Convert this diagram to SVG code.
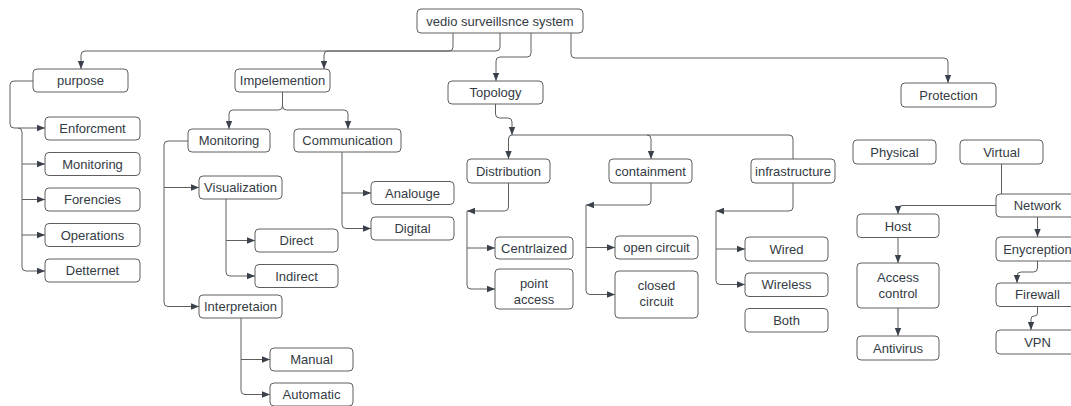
<svg xmlns="http://www.w3.org/2000/svg" width="1071" height="406" viewBox="0 0 1071 406">
<style>
.n rect{fill:#fff;stroke:#5e5e5e;stroke-width:1}
.n text{font-family:"Liberation Sans",Arial,sans-serif;font-size:13px;fill:#343b44;text-anchor:middle}
#connectors path{fill:none;stroke:#5e5e5e;stroke-width:1}
#connectors path.a{marker-end:url(#ah)}
</style>
<defs>
<marker id="ah" viewBox="0 0 10 10" refX="10" refY="5" markerWidth="8" markerHeight="8" orient="auto" markerUnits="userSpaceOnUse">
<path d="M0,1 L10,5 L0,9 z" fill="#3a414a"/>
</marker>
</defs>
<rect width="1071" height="406" fill="#fff"/>
<g id="connectors">
<path class="a" d="M453,33 V47 Q453,51 449,51 H85 Q81,51 81,55 V69"/>
<path class="a" d="M500,33 V47 Q500,51 496,51 H328 Q324,51 324,55 V69"/>
<path class="a" d="M531,33 V53 Q531,57 527,57 H500 Q496,57 496,61 V81"/>
<path class="a" d="M571,33 V54 Q571,58 575,58 H944 Q948,58 948,62 V83"/>
<path class="a" d="M33,81 H14 Q10,81 10,85 V124 Q10,128 14,128 H45"/>
<path class="a" d="M18,128 Q22,128 22,132 V267 Q22,271 26,271 H45"/>
<path class="a" d="M22,164 H45"/>
<path class="a" d="M22,199.5 H45"/>
<path class="a" d="M22,235 H45"/>
<path class="a" d="M282.5,92 V106 Q282.5,110 278.5,110 H233 Q229,110 229,114 V129"/>
<path class="a" d="M282.5,106 Q282.5,110 286.5,110 H344 Q348,110 348,114 V129"/>
<path class="a" d="M188,141 H168 Q164,141 164,145 V302.5 Q164,306.5 168,306.5 H199"/>
<path class="a" d="M164,187.5 H199"/>
<path class="a" d="M226,199 V272 Q226,276 230,276 H255"/>
<path class="a" d="M226,240.5 H255"/>
<path class="a" d="M241,318 V390.5 Q241,394.5 245,394.5 H270"/>
<path class="a" d="M241,359.5 H270"/>
<path class="a" d="M342,152 V224.5 Q342,228.5 346,228.5 H371"/>
<path class="a" d="M342,193 H371"/>
<path class="a" d="M495.5,104 V114 Q495.5,118 499.5,118 H508 Q512,118 512,122 V135"/>
<path d="M512,135 H789 Q793,135 793,139 V159"/>
<path class="a" d="M512,135 Q508.5,135 508.5,139 V159"/>
<path class="a" d="M647,135 Q651,135 651,139 V159"/>
<path class="a" d="M508.5,183 V207 Q508.5,211 504.5,211 H467"/>
<path class="a" d="M467,211 V285 Q467,289 471,289 H495"/>
<path class="a" d="M467,248 H495"/>
<path class="a" d="M651,183 V201 Q651,205 647,205 H586"/>
<path class="a" d="M586,205 V290.5 Q586,294.5 590,294.5 H615"/>
<path class="a" d="M586,247.5 H615"/>
<path class="a" d="M793,183 V207 Q793,211 789,211 H716"/>
<path class="a" d="M716,211 V280.5 Q716,284.5 720,284.5 H745"/>
<path class="a" d="M716,249 H745"/>
<path d="M1001.5,164 V194"/>
<path class="a" d="M996,205.5 H902 Q898,205.5 898,209.5 V214"/>
<path class="a" d="M898,237.5 V263"/>
<path class="a" d="M898,308 V336"/>
<path class="a" d="M1037.5,217 V237"/>
<path class="a" d="M1037.5,261 V268 Q1037.5,272 1033.5,272 H1021 Q1017,272 1017,276 V283"/>
<path class="a" d="M1037.5,306.5 V313 Q1037.5,316 1034.5,316 H1034 Q1031,316 1031,319 V330"/>
</g>
<g id="main" class="n"><rect x="417" y="9" width="166" height="24" rx="4"/><text x="500" y="25.5">vedio surveillsnce system</text></g>
<g id="purpose" class="n"><rect x="33" y="69" width="95" height="23" rx="4"/><text x="80.5" y="85">purpose</text></g>
<g id="impelemention" class="n"><rect x="235" y="69" width="95" height="23" rx="4"/><text x="282.5" y="85">Impelemention</text></g>
<g id="topology" class="n"><rect x="448" y="81" width="95" height="23" rx="4"/><text x="495.5" y="97">Topology</text></g>
<g id="protection" class="n"><rect x="901" y="83" width="95" height="24" rx="4"/><text x="948.5" y="99.5">Protection</text></g>
<g id="enforcment" class="n"><rect x="45" y="117" width="95" height="23" rx="4"/><text x="92.5" y="133">Enforcment</text></g>
<g id="monitoring-p" class="n"><rect x="45" y="152.5" width="95" height="23" rx="4"/><text x="92.5" y="168.5">Monitoring</text></g>
<g id="forencies" class="n"><rect x="45" y="188" width="95" height="23" rx="4"/><text x="92.5" y="204">Forencies</text></g>
<g id="operations" class="n"><rect x="45" y="223.5" width="95" height="23" rx="4"/><text x="92.5" y="239.5">Operations</text></g>
<g id="detternet" class="n"><rect x="45" y="259" width="95" height="23" rx="4"/><text x="92.5" y="275">Detternet</text></g>
<g id="monitoring" class="n"><rect x="188" y="129" width="82" height="23" rx="4"/><text x="229" y="145">Monitoring</text></g>
<g id="communication" class="n"><rect x="294" y="129" width="107" height="23" rx="4"/><text x="347.5" y="145">Communication</text></g>
<g id="visualization" class="n"><rect x="199" y="176" width="83" height="23" rx="4"/><text x="240.5" y="192">Visualization</text></g>
<g id="direct" class="n"><rect x="255" y="229" width="83" height="23" rx="4"/><text x="296.5" y="245">Direct</text></g>
<g id="indirect" class="n"><rect x="255" y="264.5" width="83" height="23" rx="4"/><text x="296.5" y="280.5">Indirect</text></g>
<g id="interpretaion" class="n"><rect x="199" y="295" width="83" height="23" rx="4"/><text x="240.5" y="311">Interpretaion</text></g>
<g id="manual" class="n"><rect x="270" y="348" width="83" height="23" rx="4"/><text x="311.5" y="364">Manual</text></g>
<g id="automatic" class="n"><rect x="270" y="383" width="83" height="23" rx="4"/><text x="311.5" y="399">Automatic</text></g>
<g id="analouge" class="n"><rect x="371" y="181.5" width="83" height="23" rx="4"/><text x="412.5" y="197.5">Analouge</text></g>
<g id="digital" class="n"><rect x="371" y="217" width="83" height="23" rx="4"/><text x="412.5" y="233">Digital</text></g>
<g id="distribution" class="n"><rect x="467" y="159" width="83" height="24" rx="4"/><text x="508.5" y="175.5">Distribution</text></g>
<g id="containment" class="n"><rect x="609" y="159" width="83" height="24" rx="4"/><text x="650.5" y="175.5">containment</text></g>
<g id="infrastructure" class="n"><rect x="751" y="159" width="84" height="24" rx="4"/><text x="793" y="175.5">infrastructure</text></g>
<g id="centrlaized" class="n"><rect x="495" y="237" width="78" height="22" rx="4"/><text x="534" y="252.5">Centrlaized</text></g>
<g id="point-access" class="n"><rect x="495" y="269" width="78" height="40" rx="4"/><text x="534" y="287.5">point</text><text x="534" y="303.5">access</text></g>
<g id="open-circuit" class="n"><rect x="615" y="236" width="83" height="23" rx="4"/><text x="656.5" y="252">open circuit</text></g>
<g id="closed-circuit" class="n"><rect x="615" y="271" width="83" height="47" rx="4"/><text x="656.5" y="290">closed</text><text x="656.5" y="306">circuit</text></g>
<g id="wired" class="n"><rect x="745" y="237" width="83" height="24" rx="4"/><text x="786.5" y="253.5">Wired</text></g>
<g id="wireless" class="n"><rect x="745" y="273" width="83" height="23.5" rx="4"/><text x="786.5" y="289">Wireless</text></g>
<g id="both" class="n"><rect x="745" y="308.5" width="83" height="23.5" rx="4"/><text x="786.5" y="324.5">Both</text></g>
<g id="physical" class="n"><rect x="853" y="140" width="83" height="24" rx="4"/><text x="894.5" y="156.5">Physical</text></g>
<g id="virtual" class="n"><rect x="960" y="140" width="83" height="24" rx="4"/><text x="1001.5" y="156.5">Virtual</text></g>
<g id="network" class="n"><rect x="996" y="194" width="83" height="23" rx="4"/><text x="1037.5" y="210">Network</text></g>
<g id="host" class="n"><rect x="857" y="214" width="82" height="23.5" rx="4"/><text x="898" y="230.5">Host</text></g>
<g id="access-control" class="n"><rect x="857" y="263" width="82" height="45" rx="4"/><text x="898" y="281.5">Access</text><text x="898" y="297.5">control</text></g>
<g id="antivirus" class="n"><rect x="857" y="336" width="82" height="24" rx="4"/><text x="898" y="352.5">Antivirus</text></g>
<g id="enycreption" class="n"><rect x="996" y="237" width="83" height="24" rx="4"/><text x="1037.5" y="253.5">Enycreption</text></g>
<g id="firewall" class="n"><rect x="996" y="283" width="83" height="23.5" rx="4"/><text x="1037.5" y="299">Firewall</text></g>
<g id="vpn" class="n"><rect x="996" y="330" width="83" height="24" rx="4"/><text x="1037.5" y="346.5">VPN</text></g>
</svg>
